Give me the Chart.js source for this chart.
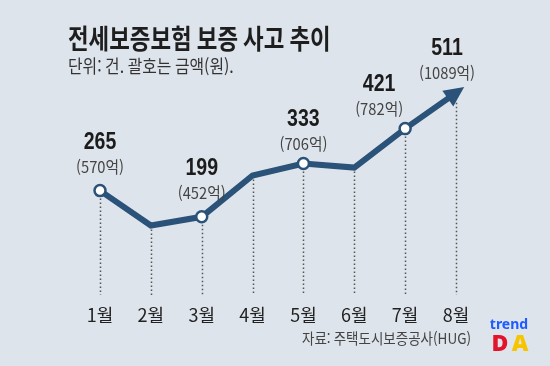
<!DOCTYPE html>
<html lang="ko">
<head>
<meta charset="utf-8">
<title>전세보증보험 보증 사고 추이</title>
<script src="https://cdn.jsdelivr.net/npm/chart.js@4.4.1/dist/chart.umd.min.js"></script>
<style>
  html, body { margin: 0; padding: 0; background: #dee4eb; }
  #wrap { position: relative; width: 550px; height: 366px; }
</style>
</head>
<body>
<div id="wrap"><canvas id="mycanvas" width="550" height="366"></canvas></div>
<script>
// data (2월, 4월, 6월 have no label, estimated from line height)
var months = ['1월', '2월', '3월', '4월', '5월', '6월', '7월', '8월'];
var cases = [265, 177, 199, 303, 333, 323, 421, 511];
var amounts = [570, null, 452, null, 706, null, 782, 1089];   // 억원, null = no label

var titleText = '전세보증보험 보증 사고 추이';
var unitText = '단위: 건. 괄호는 금액(원).';
var sourceText = '자료: 주택도시보증공사(HUG)';

var lineColor = '#2b5278';
var KR = "'Noto Sans CJK KR', 'Noto Sans', sans-serif";

function txt(ctx, s, x, y, font, color, align, sx) {
  ctx.save();
  ctx.font = font;
  ctx.fillStyle = color;
  ctx.textAlign = align;
  ctx.textBaseline = 'middle';
  ctx.translate(x, y);
  ctx.scale(sx || 1, 1);
  ctx.fillText(s, 0, 0);
  ctx.restore();
}

// background + dotted drop lines from each point to the axis
var dropLines = {
  id: 'dropLines',
  beforeDraw: function(chart) {
    var ctx = chart.ctx;
    ctx.save();
    ctx.fillStyle = '#dee4eb';
    ctx.fillRect(0, 0, chart.width, chart.height);
    ctx.restore();
  },
  beforeDatasetsDraw: function(chart) {
    var ctx = chart.ctx;
    var meta = chart.getDatasetMeta(0);
    var bottom = chart.scales.y.getPixelForValue(0) - 1;
    ctx.save();
    ctx.strokeStyle = '#555';
    ctx.lineWidth = 1.5;
    ctx.setLineDash([1.5, 2.5]);
    for (var i = 0; i < meta.data.length; i++) {
      var p = meta.data[i];
      var start = p.y + 4;
      if (i == meta.data.length - 1) start = p.y + 10;
      ctx.beginPath();
      ctx.moveTo(Math.round(p.x) + 0.5, start);
      ctx.lineTo(Math.round(p.x) + 0.5, bottom);
      ctx.stroke();
    }
    ctx.restore();
  }
};

// arrow head on the last point + value labels + titles
var labelsPlugin = {
  id: 'labelsPlugin',
  afterDatasetsDraw: function(chart) {
    var ctx = chart.ctx;
    var meta = chart.getDatasetMeta(0);
    var n = meta.data.length;
    var a = meta.data[n - 2], b = meta.data[n - 1];
    var dx = b.x - a.x, dy = b.y - a.y;
    var len = Math.sqrt(dx * dx + dy * dy);
    var ux = dx / len, uy = dy / len;
    var tipX = b.x + ux * 10, tipY = b.y + uy * 10;
    var baseX = tipX - ux * 20, baseY = tipY - uy * 20;
    ctx.save();
    ctx.fillStyle = lineColor;
    ctx.beginPath();
    ctx.moveTo(tipX, tipY);
    ctx.lineTo(baseX - uy * 9.5, baseY + ux * 9.5);
    ctx.lineTo(baseX + uy * 9.5, baseY - ux * 9.5);
    ctx.closePath();
    ctx.fill();
    ctx.restore();

    var shiftX = [0, 0, 0, 0, 0, 0, -26, -9];
    for (var i = 0; i < n; i++) {
      if (amounts[i] == null) continue;
      var p = meta.data[i];
      var up = i < 4 ? 48 : 44;
      var x = p.x + shiftX[i];
      txt(ctx, String(cases[i]), x, p.y - up, "bold 23px 'Liberation Sans', Arial, sans-serif", '#1c1c1c', 'center', 0.85);
      txt(ctx, '(' + amounts[i] + '억)', x, p.y - up + 24, '16px ' + KR, '#444', 'center', 0.92);
    }

    txt(ctx, titleText, 68, 39, 'bold 27px ' + KR, '#1e1e1e', 'left', 0.83);
    txt(ctx, unitText, 68, 66, '18px ' + KR, '#333', 'left', 0.88);
    txt(ctx, sourceText, 471, 338, '15px ' + KR, '#444', 'right', 0.9);

    txt(ctx, 'trend', 509, 325, "bold 14px 'Noto Sans', sans-serif", '#1d5cff', 'center', 1);
    txt(ctx, 'D', 500, 344, "900 23px 'Noto Sans', sans-serif", '#e3132b', 'center', 1);
    txt(ctx, 'A', 520, 344, "900 23px 'Noto Sans', sans-serif", '#f7c500', 'center', 1);
  }
};

var ctx = document.getElementById('mycanvas');

var chart = new Chart(ctx, {
  type: 'line',
  data: {
    labels: months,
    datasets: [
      {
        label: '보증 사고(건)',
        data: cases,
        borderColor: lineColor,
        borderWidth: 6,
        borderJoinStyle: 'miter',
        tension: 0,
        fill: false,
        pointRadius: [5.5, 0, 5.5, 0, 5.5, 0, 5.5, 0],
        pointHoverRadius: [5.5, 0, 5.5, 0, 5.5, 0, 5.5, 0],
        pointBorderWidth: 2.5,
        pointBackgroundColor: '#ffffff',
        pointBorderColor: lineColor
      }
    ]
  },
  options: {
    responsive: false,
    animation: false,
    layout: {
      padding: { left: 100, right: 94, top: 57.5, bottom: 32.5 }
    },
    plugins: {
      legend: { display: false },
      tooltip: { enabled: false }
    },
    scales: {
      x: {
        offset: false,
        grid: { display: false, drawTicks: false },
        border: { display: false },
        ticks: {
          padding: 8,
          color: '#222',
          font: { family: KR, size: 18 }
        }
      },
      y: {
        display: false,
        min: 0,
        max: 600
      }
    }
  },
  plugins: [dropLines, labelsPlugin]
});
</script>
</body>
</html>
